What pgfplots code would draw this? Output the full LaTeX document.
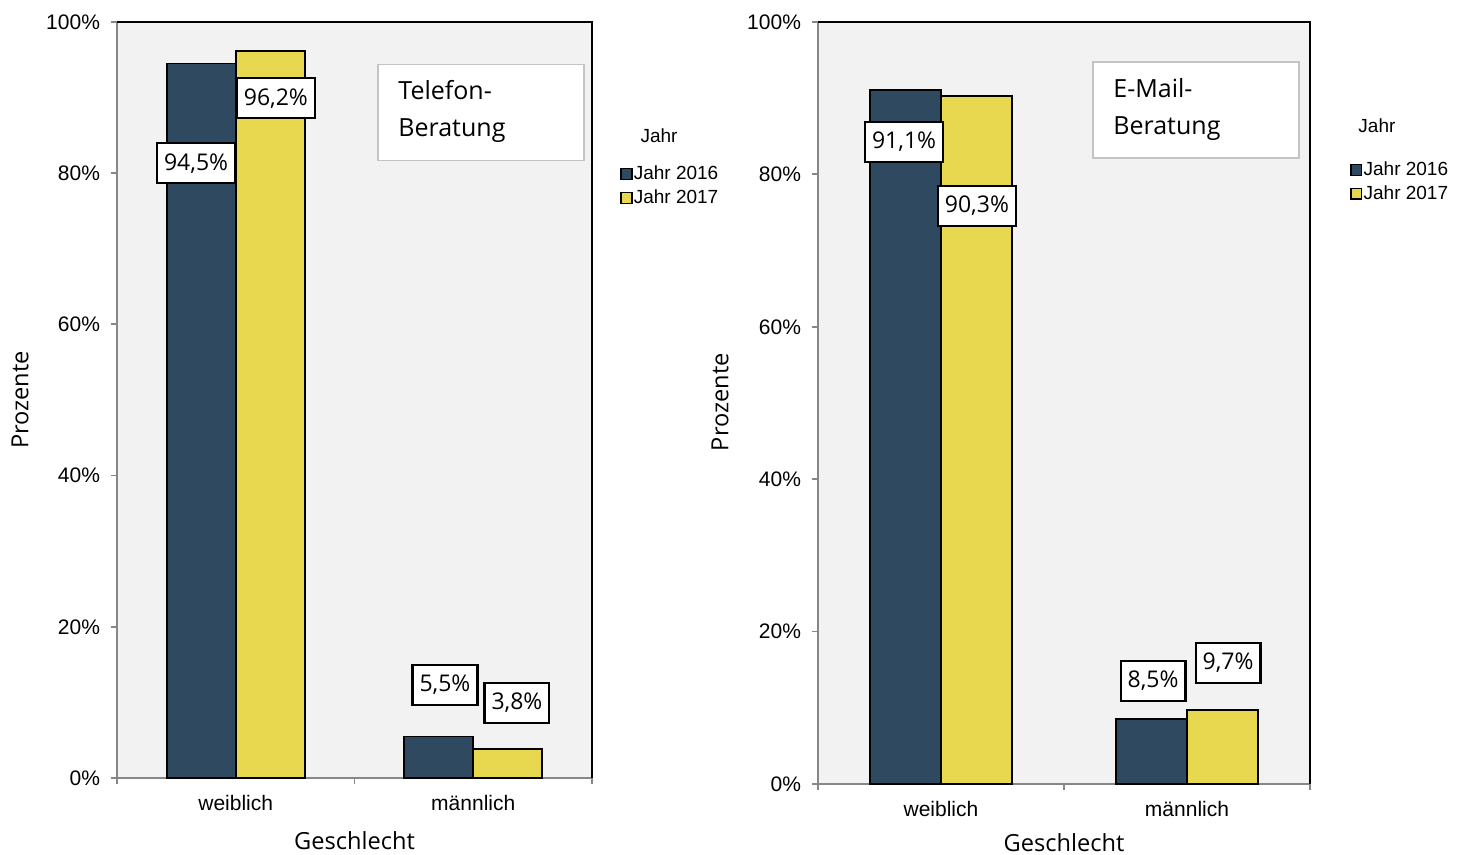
\documentclass[border=0pt]{standalone}
\usepackage{fontspec}
\setmainfont{Open Sans}
\newfontfamily\arialf{Liberation Sans}
\usepackage{pgfplots}
\pgfplotsset{compat=1.18}

\definecolor{navy}{HTML}{2F4A60}
\definecolor{gelb}{HTML}{E8D84F}
\definecolor{bgray}{HTML}{F2F2F2}
\definecolor{axisgray}{HTML}{878787}
\definecolor{boxgray}{HTML}{C4C4C4}

\pgfplotsset{
  gstyle/.style={
    scale only axis,
    clip=false,
    ybar,
    bar width=0.29,
    xmin=-0.5, xmax=1.5, ymin=0, ymax=100,
    axis x line*=bottom, axis y line*=left,
    axis line style={draw=axisgray, line width=1pt, -},
    axis background/.style={fill=bgray},
    tick align=outside,
    major tick length=3pt,
    tick style={draw=axisgray, line width=0.9pt},
    xtick={-0.5,0.5,1.5},
    xticklabels={,,},
    extra x ticks={0,1},
    extra x tick labels={weiblich,männlich},
    extra x tick style={major tick length=0pt},
    ytick={0,20,40,60,80,100},
    yticklabel={\pgfmathprintnumber{\tick}\%},
    /pgf/number format/assume math mode=true,
    ticklabel style={font=\arialf\fontsize{10.5}{12}\selectfont},
    yticklabel style={xshift=-2pt},
    xticklabel style={yshift=-5pt},
    xlabel={Geschlecht},
    ylabel={Prozente},
    label style={font=\fontsize{11.8}{13}\selectfont},
    legend style={draw=none, fill=none, inner sep=0pt,
      font=\arialf\fontsize{9.5}{11}\selectfont, row sep=1.5pt,
      nodes={inner xsep=0.6pt, inner ysep=1pt}},
    legend cell align=left,
    legend image code/.code={\draw[##1, line width=0.7pt] (0pt,-2.7pt) rectangle (5.4pt,2.7pt);},
  },
}
\tikzset{
  lab/.style={draw=black, line width=1.1pt, fill=white, inner xsep=3.5pt,
    inner ysep=0pt, minimum height=20pt,
    font=\fontsize{11.5}{12}\selectfont},
  ttl/.style={anchor=west, align=left, inner sep=0pt,
    font=\fontsize{12.5}{18.5}\selectfont},
  leg/.style={font=\arialf\fontsize{9.5}{11}\selectfont, inner sep=0pt},
}

\begin{document}
\begin{tikzpicture}
\useasboundingbox (0,0) rectangle (732pt,427.5pt);

% Telefon-Beratung
\begin{axis}[gstyle,
  at={(58.5pt,38.5pt)}, anchor=south west,
  width=237.5pt, height=378pt,
  xlabel style={at={(axis description cs:0.5,-0.083)}, anchor=center},
  ylabel style={at={(axis description cs:-0.204,0.5)}, anchor=center},
  legend style={at={(1.059,0.813)}, anchor=north west},
]
\addplot[fill=navy, draw=black, line width=0.9pt, bar shift=-0.145]
  coordinates {(0,94.5) (1,5.5)};
\addplot[fill=gelb, draw=black, line width=0.9pt, bar shift=0.145]
  coordinates {(0,96.2) (1,3.8)};
\legend{Jahr 2016, Jahr 2017}
\draw[black, line width=1pt] (rel axis cs:0,1) -- (rel axis cs:1,1) -- (rel axis cs:1,0);
\draw[boxgray, fill=white, line width=0.8pt]
  (rel axis cs:0.549,0.817) rectangle (rel axis cs:0.983,0.944);
\node[ttl] at (rel axis cs:0.5916,0.8816) {Telefon-\\Beratung};
\node[leg] at (rel axis cs:1.141,0.849) {Jahr};
\node[lab] at (axis cs:-0.167,81.3) {94,5\%};
\node[lab] at (axis cs:0.169,89.9) {96,2\%};
\node[lab] at (axis cs:0.881,12.3) {5,5\%};
\node[lab] at (axis cs:1.184,9.9) {3,8\%};
\end{axis}

% E-Mail-Beratung
\begin{axis}[gstyle,
  at={(409pt,35.5pt)}, anchor=south west,
  width=246pt, height=381pt,
  xlabel style={at={(axis description cs:0.5,-0.077)}, anchor=center},
  ylabel style={at={(axis description cs:-0.199,0.501)}, anchor=center},
  legend style={at={(1.081,0.820)}, anchor=north west},
]
\addplot[fill=navy, draw=black, line width=0.9pt, bar shift=-0.145]
  coordinates {(0,91.1) (1,8.5)};
\addplot[fill=gelb, draw=black, line width=0.9pt, bar shift=0.145]
  coordinates {(0,90.3) (1,9.7)};
\legend{Jahr 2016, Jahr 2017}
\draw[black, line width=1pt] (rel axis cs:0,1) -- (rel axis cs:1,1) -- (rel axis cs:1,0);
\draw[boxgray, fill=white, line width=0.8pt]
  (rel axis cs:0.559,0.8215) rectangle (rel axis cs:0.978,0.9475);
\node[ttl] at (rel axis cs:0.5996,0.8845) {E-Mail-\\Beratung};
\node[leg] at (rel axis cs:1.136,0.8635) {Jahr};
\node[lab] at (axis cs:-0.150,84.3) {91,1\%};
\node[lab] at (axis cs:0.146,75.9) {90,3\%};
\node[lab] at (axis cs:0.862,13.5) {8,5\%};
\node[lab] at (axis cs:1.167,15.9) {9,7\%};
\end{axis}
\end{tikzpicture}
\end{document}
